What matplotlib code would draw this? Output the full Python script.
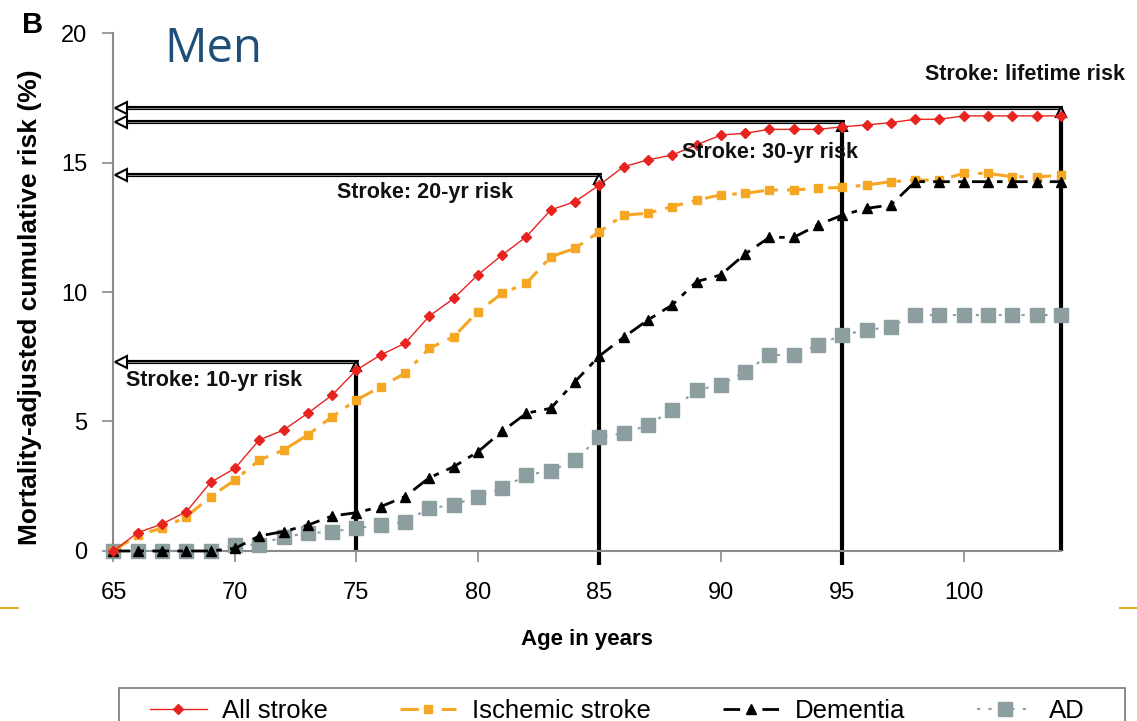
import matplotlib.pyplot as plt
from matplotlib.lines import Line2D
from matplotlib.patches import Rectangle

# ---- data ----
ages = list(range(65, 105))

all_stroke = [0, 0.71, 1.04, 1.52, 2.65, 3.19, 4.29, 4.67, 5.32, 6.02,
              6.99, 7.57, 8.02, 9.07, 9.75, 10.66, 11.43, 12.14, 13.17, 13.49,
              14.13, 14.84, 15.1, 15.29, 15.68, 16.06, 16.13, 16.28, 16.28, 16.28,
              16.38, 16.45, 16.54, 16.67, 16.67, 16.8, 16.8, 16.8, 16.8, 16.8]

ischemic = [0, 0.62, 0.88, 1.32, 2.1, 2.74, 3.51, 3.9, 4.48, 5.19,
            5.83, 6.34, 6.86, 7.83, 8.27, 9.24, 9.95, 10.34, 11.36, 11.69,
            12.33, 12.97, 13.04, 13.3, 13.55, 13.75, 13.81, 13.94, 13.94, 14.0,
            14.04, 14.13, 14.26, 14.32, 14.32, 14.58, 14.58, 14.45, 14.45, 14.5]

dementia = [0, 0, 0, 0, 0, 0.1, 0.58, 0.75, 1.0, 1.35,
            1.48, 1.71, 2.1, 2.83, 3.25, 3.83, 4.62, 5.32, 5.51, 6.54,
            7.53, 8.25, 8.92, 9.5, 10.4, 10.66, 11.47, 12.11, 12.11, 12.59,
            12.97, 13.23, 13.36, 14.26, 14.26, 14.26, 14.26, 14.26, 14.26, 14.26]

ad = [0, 0, 0, 0, 0, 0.23, 0.25, 0.55, 0.68, 0.75,
      0.88, 1.0, 1.13, 1.65, 1.78, 2.1, 2.42, 2.93, 3.1, 3.5,
      4.41, 4.54, 4.86, 5.44, 6.22, 6.41, 6.92, 7.57, 7.57, 7.95,
      8.34, 8.53, 8.66, 9.11, 9.11, 9.11, 9.11, 9.11, 9.11, 9.11]

series_labels = ["All stroke", "Ischemic stroke", "Dementia", "AD"]

# stroke risk annotations: age of vertical arrow, risk level of horizontal arrow
risk_ages = [75, 85, 95, 104]
risk_levels = [7.3, 14.5, 16.55, 17.1]
risk_bottoms = [0, -0.55, -0.55, 0]
risk_texts = ["Stroke: 10-yr risk", "Stroke: 20-yr risk",
              "Stroke: 30-yr risk", "Stroke: lifetime risk"]
risk_text_pos = [(65.5, 6.6), (74.2, 13.86), (88.4, 15.37), (98.4, 18.38)]

x_ticks = [65, 70, 75, 80, 85, 90, 95, 100]
y_ticks = [0, 5, 10, 15, 20]

plt.rcParams["font.family"] = ["Liberation Sans", "DejaVu Sans"]

RED = "#e8231f"
ORANGE = "#f5a623"
GRAY = "#8c9ea0"
AXCOL = "#8a8a8a"

fig = plt.figure(figsize=(11.37, 7.21), dpi=100)
ax = fig.add_axes([0.0998, 0.2358, 0.8333, 0.7184])

# arrows (drawn first so the curves sit on top)
for a, lvl, bot in zip(risk_ages, risk_levels, risk_bottoms):
    ax.plot([a, a], [bot, lvl], color="black", lw=3.0, solid_capstyle="butt",
            clip_on=False, zorder=2)
    ax.plot([65.2, a + 0.1], [lvl, lvl], color="black", lw=3.0,
            solid_capstyle="butt", clip_on=False, zorder=2)
    ax.plot([65.2, a + 0.1], [lvl, lvl], color="white", lw=0.6,
            solid_capstyle="butt", clip_on=False, zorder=2, alpha=0.6)
    ax.plot([65.3], [lvl], marker="<", ms=8, mfc="white", mec="black",
            mew=1.5, clip_on=False, zorder=3)
    ax.plot([a], [lvl - 0.15], marker="^", ms=7, mfc="white", mec="black",
            mew=1.5, clip_on=False, zorder=3)

for txt, (tx, ty) in zip(risk_texts, risk_text_pos):
    ax.text(tx, ty, txt, fontsize=15.5, fontweight="bold", ha="left",
            va="center", color="#111111", zorder=6)

ax.plot(ages, all_stroke, color=RED, lw=1.0, marker="D", ms=5.5,
        mfc=RED, mec=RED, label=series_labels[0], zorder=5, clip_on=False)
ax.plot(ages, ischemic, color=ORANGE, lw=2.2, ls=(0, (6, 3, 1.5, 3)),
        marker="s", ms=6, mfc=ORANGE, mec=ORANGE, label=series_labels[1],
        zorder=4, clip_on=False)
ax.plot(ages, dementia, color="black", lw=2.0, ls=(0, (6, 3, 2, 3)),
        marker="^", ms=7, mfc="black", mec="black", label=series_labels[2],
        zorder=4, clip_on=False)
ax.plot(ages, ad, color=GRAY, lw=1.5, ls=(0, (1.5, 4)), marker="s", ms=10,
        mfc=GRAY, mec=GRAY, label=series_labels[3], zorder=3, clip_on=False)

ax.set_xlim(65, 104)
ax.set_ylim(0, 20)
ax.set_xticks(x_ticks)
ax.set_yticks(y_ticks)
ax.tick_params(axis="both", colors=AXCOL, labelcolor="black", labelsize=17,
               length=8, width=1.2, direction="out")
ax.tick_params(axis="x", pad=14)
ax.tick_params(axis="y", pad=11)
for s in ["top", "right"]:
    ax.spines[s].set_visible(False)
for s in ["left", "bottom"]:
    ax.spines[s].set_color(AXCOL)
    ax.spines[s].set_linewidth(1.5)

ax.set_ylabel("Mortality-adjusted cumulative risk (%)", fontsize=19,
              fontweight="bold")
ax.yaxis.set_label_coords(-0.075, 0.471)
ax.set_xlabel("Age in years", fontsize=16, fontweight="bold", labelpad=18)

fig.text(0.019, 0.966, "B", fontsize=21, fontweight="bold", va="center")
fig.text(0.145, 0.931, "Men", fontsize=34, color="#1f4e79", va="center",
         family=["Open Sans", "DejaVu Sans"])

# slide template accents
fig.add_artist(Line2D([0, 0.016], [0.157, 0.157], color="#e0b030", lw=1.5))
fig.add_artist(Line2D([0.985, 1.0], [0.157, 0.157], color="#e0b030", lw=1.5))

# legend box runs off the bottom of the slide
fig.add_artist(Rectangle((0.1047, -0.05), 0.885, 0.0958, transform=fig.transFigure,
                         fill=False, edgecolor="#777777", lw=1.2))
handles, labels = ax.get_legend_handles_labels()
leg = fig.legend(handles, labels, loc="center left", ncol=4,
                 bbox_to_anchor=(0.132, 0.014), frameon=False,
                 prop={"size": 18.5}, handlelength=2.2, handletextpad=0.6,
                 columnspacing=2.8, borderaxespad=0, borderpad=0)

fig.savefig("out.png", dpi=100)
